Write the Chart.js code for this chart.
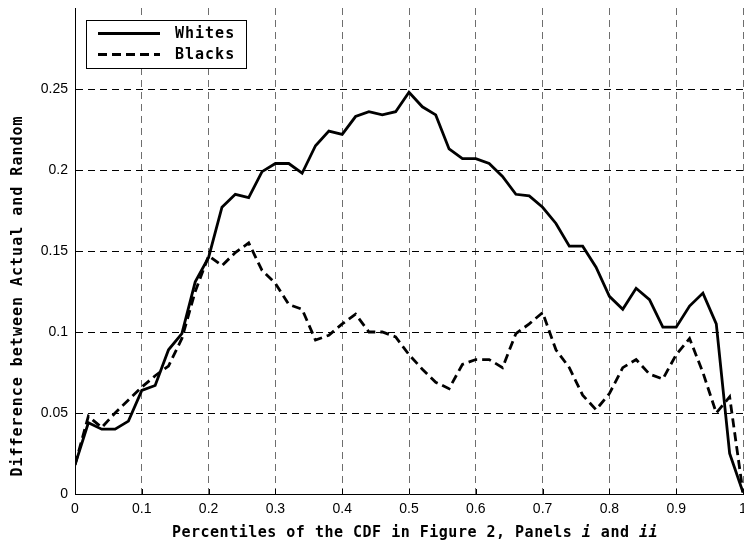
<!DOCTYPE html>
<html>
<head>
<meta charset="utf-8">
<script src="https://cdn.jsdelivr.net/npm/chart.js@4"></script>
<style>
  html, body { margin: 0; padding: 0; background: #fff; }
  #wrap { width: 744px; height: 545px; }
</style>
</head>
<body>
<div id="wrap"><canvas id="cdfChart" width="744" height="545"></canvas></div>
<script>
// percentiles along the x axis
const percentiles = [0, 0.02, 0.04, 0.06, 0.08, 0.1, 0.12, 0.14, 0.16, 0.18,
    0.2, 0.22, 0.24, 0.26, 0.28, 0.3, 0.32, 0.34, 0.36, 0.38,
    0.4, 0.42, 0.44, 0.46, 0.48, 0.5, 0.52, 0.54, 0.56, 0.58,
    0.6, 0.62, 0.64, 0.66, 0.68, 0.7, 0.72, 0.74, 0.76, 0.78,
    0.8, 0.82, 0.84, 0.86, 0.88, 0.9, 0.92, 0.94, 0.96, 0.98, 1];

const whites = [0.018, 0.044, 0.040, 0.040, 0.045, 0.064, 0.067, 0.089, 0.099, 0.131,
    0.146, 0.177, 0.185, 0.183, 0.199, 0.204, 0.204, 0.198, 0.215, 0.224,
    0.222, 0.233, 0.236, 0.234, 0.236, 0.248, 0.239, 0.234, 0.213, 0.207,
    0.207, 0.204, 0.196, 0.185, 0.184, 0.177, 0.167, 0.153, 0.153, 0.140,
    0.122, 0.114, 0.127, 0.120, 0.103, 0.103, 0.116, 0.124, 0.105, 0.025, 0.001];

const blacks = [0.018, 0.048, 0.041, 0.050, 0.058, 0.066, 0.073, 0.079, 0.096, 0.125,
    0.147, 0.141, 0.149, 0.155, 0.138, 0.130, 0.117, 0.114, 0.095, 0.098,
    0.105, 0.111, 0.100, 0.100, 0.097, 0.086, 0.077, 0.069, 0.065, 0.080,
    0.083, 0.083, 0.078, 0.099, 0.105, 0.112, 0.089, 0.078, 0.061, 0.052,
    0.062, 0.078, 0.083, 0.074, 0.071, 0.086, 0.096, 0.075, 0.050, 0.060, 0.001];

const seriesLabels = ['Whites', 'Blacks'];
const yTitle = 'Difference between Actual and Random';
const xTitleParts = [
    ['Percentiles of the CDF in Figure 2, Panels ', false],
    ['i', true],
    [' and ', false],
    ['ii', true]
];

const tickFont = "'Liberation Sans', Arial, sans-serif";
const titleFont = "'DejaVu Sans Mono', monospace";

function fmt(v) {
    return String(parseFloat(v.toFixed(2)));
}

function toPoints(values) {
    return values.map((v, i) => ({ x: percentiles[i], y: v }));
}

// titles, legend and inward tick marks drawn on top of the chart
const decorPlugin = {
    id: 'decor',
    afterDraw(chart) {
        const ctx = chart.ctx;
        const area = chart.chartArea;
        const xs = chart.scales.x;
        const ys = chart.scales.y;

        ctx.save();
        ctx.strokeStyle = '#000';
        ctx.lineWidth = 1;
        ctx.setLineDash([]);
        xs.ticks.forEach(t => {
            const px = Math.round(xs.getPixelForValue(t.value)) + 0.5;
            ctx.beginPath();
            ctx.moveTo(px, area.bottom);
            ctx.lineTo(px, area.bottom - 5);
            ctx.stroke();
        });
        ys.ticks.forEach(t => {
            if (t.value > 0.26) return;
            const py = Math.round(ys.getPixelForValue(t.value)) + 0.5;
            ctx.beginPath();
            ctx.moveTo(area.left, py);
            ctx.lineTo(area.left + 5, py);
            ctx.stroke();
        });

        // y title
        ctx.fillStyle = '#000';
        ctx.textBaseline = 'middle';
        ctx.textAlign = 'center';
        ctx.font = 'bold 15px ' + titleFont;
        ctx.letterSpacing = '1px';
        ctx.save();
        ctx.translate(18, 296);
        ctx.rotate(-Math.PI / 2);
        ctx.fillText(yTitle, 0, 0);
        ctx.restore();

        // x title, with italic panel letters
        ctx.textAlign = 'left';
        ctx.letterSpacing = '0.5px';
        let total = 0;
        xTitleParts.forEach(([txt, it]) => {
            ctx.font = (it ? 'italic ' : '') + 'bold 15px ' + titleFont;
            total += ctx.measureText(txt).width;
        });
        let x = 415 - total / 2;
        xTitleParts.forEach(([txt, it]) => {
            ctx.font = (it ? 'italic ' : '') + 'bold 15px ' + titleFont;
            ctx.fillText(txt, x, 533);
            x += ctx.measureText(txt).width;
        });

        // legend box
        ctx.letterSpacing = '1px';
        ctx.fillStyle = '#fff';
        ctx.fillRect(86, 20, 160, 48);
        ctx.strokeRect(86.5, 20.5, 160, 48);
        ctx.fillStyle = '#000';
        ctx.font = 'bold 15px ' + titleFont;
        chart.data.datasets.forEach((ds, i) => {
            const ly = 33.5 + i * 21;
            ctx.lineWidth = ds.borderWidth;
            ctx.setLineDash(ds.borderDash || []);
            ctx.beginPath();
            ctx.moveTo(98, ly);
            ctx.lineTo(160, ly);
            ctx.stroke();
            ctx.setLineDash([]);
            ctx.fillText(ds.label, 175, ly + 1);
        });
        ctx.restore();
    }
};

new Chart(document.getElementById('cdfChart'), {
    type: 'line',
    data: {
        datasets: [
            {
                label: seriesLabels[0],
                data: toPoints(whites),
                borderColor: '#000',
                borderWidth: 2.8,
                pointRadius: 0,
                tension: 0
            },
            {
                label: seriesLabels[1],
                data: toPoints(blacks),
                borderColor: '#000',
                borderWidth: 2.8,
                borderDash: [9, 5],
                pointRadius: 0,
                tension: 0
            }
        ]
    },
    options: {
        responsive: false,
        animation: false,
        layout: { padding: { top: 8, right: 1, left: 0, bottom: 0 } },
        plugins: {
            legend: { display: false },
            tooltip: { enabled: false }
        },
        scales: {
            x: {
                type: 'linear',
                min: 0,
                max: 1,
                afterFit: s => { s.height = 51; s.paddingRight = 0; s.paddingLeft = 0; },
                ticks: {
                    stepSize: 0.1,
                    padding: 7,
                    color: '#000',
                    font: { family: tickFont, size: 14 },
                    maxRotation: 0,
                    callback: v => fmt(v)
                },
                grid: {
                    drawTicks: false,
                    color: '#6e6e6e',
                    lineWidth: 1
                },
                border: { display: true, color: '#000', width: 1, dash: [7, 5] }
            },
            y: {
                min: 0,
                max: 0.3,
                afterFit: s => { s.width = 75; s.paddingTop = 0; s.paddingBottom = 0; },
                ticks: {
                    stepSize: 0.05,
                    padding: 7,
                    color: '#000',
                    font: { family: tickFont, size: 14 },
                    callback: v => (v > 0.26 ? '' : fmt(v))
                },
                grid: {
                    drawTicks: false,
                    color: c => (c.tick && c.tick.value > 0.26 ? 'rgba(0,0,0,0)' : '#000'),
                    lineWidth: 1
                },
                border: { display: true, color: '#000', width: 1, dash: [7, 5] }
            }
        }
    },
    plugins: [decorPlugin]
});
</script>
</body>
</html>
